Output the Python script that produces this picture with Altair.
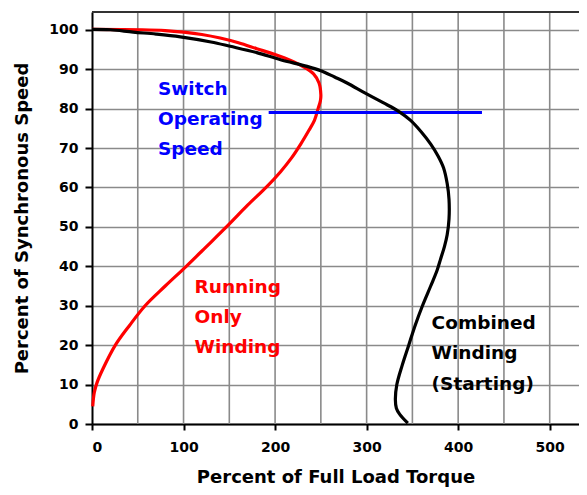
import altair as alt
import pandas as pd

# ---- data ----
red_x = [0.8, 2.5, 5.5, 12, 25.5, 41, 58, 80, 103, 125, 149, 170, 191, 206, 218,
         228, 237, 243, 247, 249.5, 250, 248, 242, 231, 217, 200, 180, 160, 140,
         120, 100, 80, 55, 0]
red_y = [4.5, 8, 10.5, 14, 20, 25, 30, 35, 40, 45, 50.5, 55.5, 60.2, 64, 67.5,
         71, 74.5, 77, 80, 82, 83.5, 86.5, 88.8, 90.6, 92.2, 93.7, 95.2, 96.7, 97.9,
         98.8, 99.4, 99.8, 100, 100.1]

black_x = [0, 20, 45, 70, 96.5, 130, 151, 180, 206, 235, 250, 265, 278.6, 298, 318,
           335, 348, 360, 370, 378, 384, 388, 390, 390, 388, 385, 381, 377, 370, 361,
           353, 346, 339, 333, 331.4, 332.5, 336, 345]
black_y = [100.1, 100, 99.4, 98.9, 98.2, 96.9, 95.8, 94.2, 92.4, 90.7, 89.6, 88, 86.5,
           84, 81.5, 79.3, 77, 74, 71, 68, 65, 61, 57, 52, 48, 45, 42, 39, 35, 30, 25,
           20, 15, 10, 6.2, 4, 2.5, 0.2]

switch_x = [193, 426]
switch_y = [79, 79]

x_grid = [50, 100, 150, 200, 250, 300, 350, 400, 450, 500]
x_ticks = [0, 100, 200, 300, 400, 500]
y_ticks = [0, 10, 20, 30, 40, 50, 60, 70, 80, 90, 100]

blue_lines = ["Switch", "Operating", "Speed"]
blue_pos_x = [72, 72, 72]
blue_pos_y = [83.5, 75.8, 68.3]

red_lines = ["Running", "Only", "Winding"]
red_pos_x = [112, 112, 112]
red_pos_y = [33.3, 25.6, 18.0]

black_lines = ["Combined", "Winding", "(Starting)"]
black_pos_x = [371, 371, 371]
black_pos_y = [24.1, 16.5, 8.7]

X_MAX = 532
Y_MAX = 104.5

# ---- tables ----
red_df = pd.DataFrame({"x": red_x, "y": red_y, "i": range(len(red_x))})
black_df = pd.DataFrame({"x": black_x, "y": black_y, "i": range(len(black_x))})
switch_df = pd.DataFrame({"x": switch_x, "y": switch_y, "i": [0, 1]})
grid_df = pd.DataFrame({"x": x_grid})
blue_txt = pd.DataFrame({"x": blue_pos_x, "y": blue_pos_y, "t": blue_lines})
red_txt = pd.DataFrame({"x": red_pos_x, "y": red_pos_y, "t": red_lines})
black_txt = pd.DataFrame({"x": black_pos_x, "y": black_pos_y, "t": black_lines})

FONT = "DejaVu Sans"

xscale = alt.Scale(domain=[0, X_MAX], nice=False, zero=False)
yscale = alt.Scale(domain=[0, Y_MAX], nice=False, zero=False)

x_axis = alt.Axis(
    values=x_ticks, grid=False, format="d",
    domainColor="black", domainWidth=2,
    tickColor="black", tickWidth=2, tickSize=6,
    labelFont=FONT, labelFontSize=14, labelFontWeight="bold", labelColor="black",
    labelBaseline="alphabetic", labelPadding=21,
    title="Percent of Full Load Torque", titleFont=FONT, titleFontSize=18,
    titleFontWeight="bold", titleColor="black",
    titleBaseline="alphabetic", titleY=58,
)
y_axis = alt.Axis(
    values=y_ticks, grid=True, gridColor="#8a8a8a", gridWidth=1.6, format="d",
    domainColor="black", domainWidth=2,
    tickColor="black", tickWidth=2, tickSize=7,
    labelFont=FONT, labelFontSize=14, labelFontWeight="bold", labelColor="black",
    labelPadding=7,
    title="Percent of Synchronous Speed", titleFont=FONT, titleFontSize=18,
    titleFontWeight="bold", titleColor="black",
    titleAngle=-90, titleBaseline="alphabetic", titleAlign="center",
    titleX=-65, titleY=206,
)

def X(field="x"):
    return alt.X(f"{field}:Q", scale=xscale, axis=x_axis)

def Y(field="y"):
    return alt.Y(f"{field}:Q", scale=yscale, axis=y_axis)

grid = alt.Chart(grid_df).mark_rule(color="#8a8a8a", strokeWidth=1.6).encode(x=X())
top = alt.Chart(grid_df).mark_rule(color="#333333", strokeWidth=1.5).encode(
    y=alt.datum(Y_MAX)
)
red = alt.Chart(red_df).mark_line(
    color="#ff0000", strokeWidth=3.2, strokeJoin="round", interpolate="catmull-rom"
).encode(x=X(), y=Y(), order="i:Q")
blue = alt.Chart(switch_df).mark_line(color="#0000ff", strokeWidth=3).encode(
    x=X(), y=Y(), order="i:Q"
)
black = alt.Chart(black_df).mark_line(
    color="#000000", strokeWidth=3.2, strokeJoin="round", interpolate="catmull-rom"
).encode(x=X(), y=Y(), order="i:Q")

def txt(df, color):
    return alt.Chart(df).mark_text(
        align="left", baseline="alphabetic", font=FONT, fontSize=18.5,
        fontWeight="bold", color=color
    ).encode(x=X(), y=Y(), text="t:N")

chart = alt.layer(
    grid, top, red, blue, black,
    txt(blue_txt, "#0000ff"), txt(red_txt, "#ff0000"), txt(black_txt, "#000000"),
).properties(
    width=487, height=412,
    autosize=alt.AutoSizeParams(type="none"),
    padding={"left": 84, "top": 4, "right": 0, "bottom": 63},
    background="white",
).configure_view(stroke=None)

chart.save("out.html", embed_options={"renderer": "svg", "actions": False})
